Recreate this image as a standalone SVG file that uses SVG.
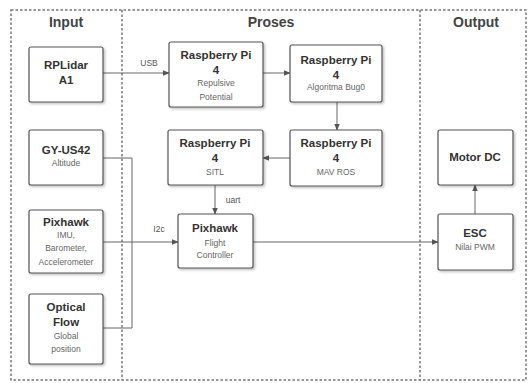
<svg xmlns="http://www.w3.org/2000/svg" width="529" height="383" viewBox="0 0 529 383">
<style>
.frame{fill:none;stroke:#777;stroke-width:1.5;stroke-dasharray:2.5 2}
.box{fill:#fff;stroke:#555;stroke-width:1.2;filter:url(#sh)}
.t{font-family:"Liberation Sans",Arial,sans-serif;font-weight:bold;font-size:11.5px;fill:#333;text-anchor:middle}
.s{font-family:"Liberation Sans",Arial,sans-serif;font-size:8.5px;fill:#666;text-anchor:middle}
.h{font-family:"Liberation Sans",Arial,sans-serif;font-weight:bold;font-size:14px;fill:#444;text-anchor:middle}
.l{font-family:"Liberation Sans",Arial,sans-serif;font-size:8.5px;fill:#555;text-anchor:middle}
.c{fill:none;stroke:#666;stroke-width:1}
.a{marker-end:url(#ar)}
</style>
<defs>
<marker id="ar" viewBox="0 0 10 10" refX="9" refY="5" markerWidth="7" markerHeight="7" markerUnits="userSpaceOnUse" orient="auto">
<path d="M0,1 L10,5 L0,9 z" fill="#555"/>
</marker>
<filter id="sh" x="-10%" y="-10%" width="130%" height="130%">
<feDropShadow dx="1.5" dy="1.5" stdDeviation="1" flood-color="#000" flood-opacity="0.25"/>
</filter>
</defs>
<rect width="529" height="383" fill="#fff"/>
<g id="frames">
<rect class="frame" x="11" y="10" width="515" height="370"/>
<line class="frame" x1="122" y1="10" x2="122" y2="380"/>
<line class="frame" x1="420" y1="10" x2="420" y2="380"/>
<text class="h" x="66" y="27">Input</text>
<text class="h" x="271" y="27">Proses</text>
<text class="h" x="476" y="27">Output</text>
</g>
<g id="connectors">
<line class="c a" x1="103" y1="73" x2="169" y2="73"/>
<text class="l" x="149" y="66">USB</text>
<line class="c a" x1="263" y1="73" x2="290" y2="73"/>
<line class="c a" x1="337" y1="102" x2="337" y2="130"/>
<line class="c a" x1="290" y1="158" x2="263" y2="158"/>
<line class="c a" x1="215" y1="185" x2="215" y2="214"/>
<text class="l" x="233" y="203">uart</text>
<polyline class="c" points="103,158 132,158 132,328 103,328"/>
<line class="c a" x1="103" y1="242" x2="178" y2="242"/>
<text class="l" x="159" y="232">I2c</text>
<line class="c a" x1="253" y1="242" x2="438" y2="242"/>
<line class="c a" x1="475" y1="214" x2="475" y2="185"/>
</g>
<g id="rplidar">
<rect class="box" x="29" y="47" width="74" height="55" rx="2"/>
<text class="t" x="66" y="69">RPLidar</text>
<text class="t" x="66" y="84">A1</text>
</g>
<g id="gyus42">
<rect class="box" x="29" y="130" width="74" height="55" rx="2"/>
<text class="t" x="66" y="154">GY-US42</text>
<text class="s" x="66" y="166">Altitude</text>
</g>
<g id="pixhawk-imu">
<rect class="box" x="29" y="210" width="74" height="63" rx="2"/>
<text class="t" x="66" y="226">Pixhawk</text>
<text class="s" x="66" y="238">IMU,</text>
<text class="s" x="66" y="251">Barometer,</text>
<text class="s" x="66" y="265">Accelerometer</text>
</g>
<g id="optical-flow">
<rect class="box" x="29" y="294" width="74" height="70" rx="2"/>
<text class="t" x="66" y="311">Optical</text>
<text class="t" x="66" y="326">Flow</text>
<text class="s" x="66" y="339">Global</text>
<text class="s" x="66" y="352">position</text>
</g>
<g id="rpi-repulsive">
<rect class="box" x="169" y="42" width="94" height="65" rx="2"/>
<text class="t" x="216" y="59">Raspberry Pi</text>
<text class="t" x="216" y="74">4</text>
<text class="s" x="216" y="86">Repulsive</text>
<text class="s" x="216" y="100">Potential</text>
</g>
<g id="rpi-bug">
<rect class="box" x="290" y="45" width="92" height="57" rx="2"/>
<text class="t" x="336" y="64">Raspberry Pi</text>
<text class="t" x="336" y="79">4</text>
<text class="s" x="336" y="90">Algoritma Bug0</text>
</g>
<g id="rpi-sitl">
<rect class="box" x="168" y="130" width="95" height="55" rx="2"/>
<text class="t" x="215" y="147">Raspberry Pi</text>
<text class="t" x="215" y="162">4</text>
<text class="s" x="215" y="175">SITL</text>
</g>
<g id="rpi-mavros">
<rect class="box" x="290" y="130" width="92" height="56" rx="2"/>
<text class="t" x="336" y="147">Raspberry Pi</text>
<text class="t" x="336" y="162">4</text>
<text class="s" x="336" y="175">MAV ROS</text>
</g>
<g id="pixhawk-fc">
<rect class="box" x="178" y="214" width="75" height="54" rx="2"/>
<text class="t" x="215" y="232">Pixhawk</text>
<text class="s" x="215" y="246">Flight</text>
<text class="s" x="215" y="258">Controller</text>
</g>
<g id="motor-dc">
<rect class="box" x="438" y="130" width="75" height="55" rx="2"/>
<text class="t" x="475" y="161">Motor DC</text>
</g>
<g id="esc">
<rect class="box" x="438" y="214" width="75" height="56" rx="2"/>
<text class="t" x="475" y="237">ESC</text>
<text class="s" x="475" y="250">Nilai PWM</text>
</g>
</svg>
